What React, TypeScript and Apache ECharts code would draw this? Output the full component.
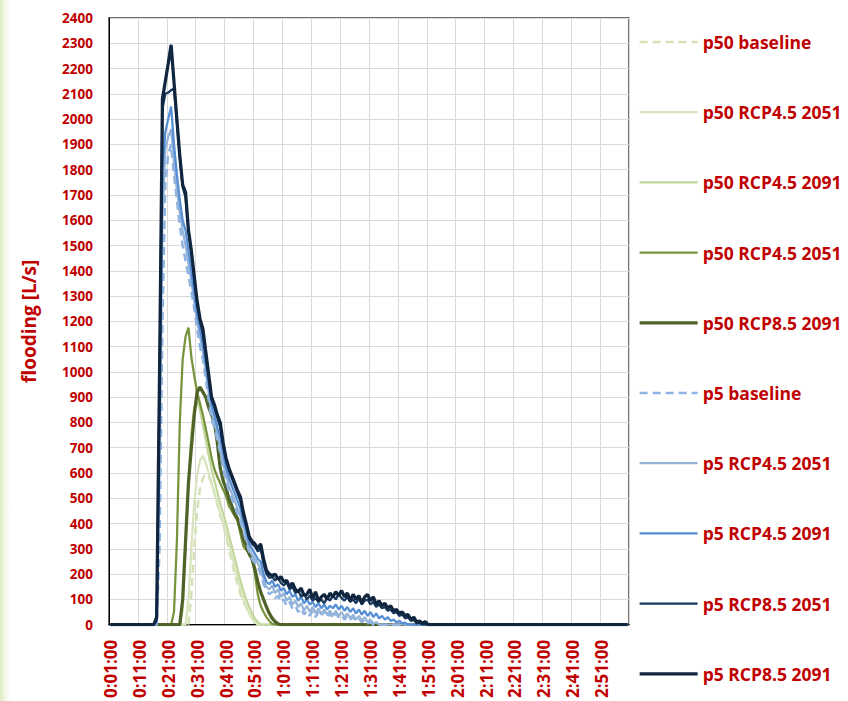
import React, { useEffect, useRef } from "react";
import * as echarts from "echarts";

// Time axis: one category per minute, 0:01:00 .. 3:00:00
const MINUTES: number[] = Array.from({ length: 180 }, (_, i) => i + 1);
const categories: string[] = MINUTES.map(
  (m) => `${Math.floor(m / 60)}:${String(m % 60).padStart(2, "0")}:00`
);

// y tick values
const yTicks = { min: 0, max: 2400, step: 100 };

// Series values (L/s) — each given from its first index (minute index, 0 = 0:01:00); zero elsewhere
const p50BaselineStart = 27;
const p50Baseline = [0, 120, 300, 450, 540, 580, 595, 585, 560, 520, 475, 430, 400, 350, 300, 250, 200, 160, 120, 90, 70, 45, 25, 12, 0];

const p50Rcp45_2051Start = 26;
const p50Rcp45_2051 = [0, 100, 300, 480, 590, 650, 668, 640, 600, 560, 520, 480, 440, 400, 360, 320, 275, 230, 185, 140, 100, 70, 45, 25, 10, 0];

const p50Rcp45_2091Start = 24;
const p50Rcp45_2091 = [0, 60, 300, 560, 760, 860, 885, 850, 790, 730, 670, 615, 570, 525, 480, 440, 400, 355, 310, 265, 220, 175, 135, 100, 70, 45, 25, 10, 0];

const p50Rcp45_2051bStart = 21;
const p50Rcp45_2051b = [0, 50, 330, 800, 1050, 1140, 1175, 1060, 985, 920, 875, 830, 775, 720, 660, 615, 585, 560, 535, 510, 470, 450, 430, 410, 360, 310, 295, 285, 260, 200, 120, 75, 50, 30, 15, 3, 0];

const p50Rcp85_2091Start = 24;
const p50Rcp85_2091 = [0, 100, 330, 560, 700, 830, 920, 940, 920, 900, 860, 830, 800, 720, 620, 570, 540, 500, 470, 440, 420, 380, 340, 310, 280, 260, 220, 170, 130, 100, 70, 45, 25, 12, 4, 0];

const p5BaselineStart = 16;
const p5Baseline = [0, 300, 1200, 1750, 1860, 1900, 1780, 1680, 1580, 1500, 1440, 1380, 1320, 1250, 1170, 1100, 1050, 970, 890, 810, 780, 730, 680, 620, 570, 530, 500, 470, 440, 410, 370, 330, 290, 260, 245, 230, 200, 160, 140, 120, 130, 105, 115, 90, 100, 75, 90, 65, 75, 50, 65, 40, 55, 35, 55, 30, 50, 35, 55, 30, 45, 25, 45, 30, 40, 20, 35, 20, 30, 15, 25, 10, 20, 5, 10, 0];

const p5Rcp45_2051Start = 16;
const p5Rcp45_2051 = [0, 600, 1600, 1880, 1930, 1960, 1830, 1720, 1630, 1560, 1500, 1430, 1360, 1280, 1200, 1140, 1080, 1000, 920, 840, 800, 750, 700, 640, 590, 550, 520, 490, 460, 430, 390, 350, 300, 275, 260, 245, 215, 180, 150, 140, 155, 125, 140, 110, 125, 95, 110, 80, 95, 70, 85, 55, 75, 50, 70, 45, 65, 40, 60, 40, 55, 35, 55, 35, 50, 30, 45, 25, 40, 20, 35, 15, 30, 10, 20, 5, 10, 0];

const p5Rcp45_2091Start = 16;
const p5Rcp45_2091 = [10, 850, 1800, 1950, 2000, 2050, 1900, 1780, 1680, 1600, 1560, 1480, 1400, 1310, 1230, 1170, 1110, 1030, 950, 870, 830, 780, 740, 680, 620, 580, 550, 520, 490, 460, 410, 370, 320, 300, 280, 260, 250, 200, 170, 160, 175, 150, 160, 135, 145, 120, 135, 110, 120, 95, 110, 85, 100, 80, 90, 70, 85, 65, 80, 60, 75, 65, 80, 60, 75, 55, 70, 50, 65, 45, 60, 40, 55, 35, 50, 30, 45, 25, 35, 20, 30, 15, 20, 10, 15, 5, 8, 0];

const p5Rcp85_2051Start = 16;
const p5Rcp85_2051 = [20, 950, 2040, 2100, 2105, 2115, 2120, 1990, 1850, 1730, 1690, 1560, 1470, 1370, 1270, 1200, 1150, 1060, 980, 890, 860, 820, 780, 710, 650, 610, 580, 550, 520, 490, 430, 390, 340, 320, 310, 290, 300, 240, 200, 185, 190, 175, 185, 165, 155, 170, 140, 150, 125, 135, 110, 125, 100, 115, 95, 105, 90, 100, 85, 105, 95, 115, 100, 120, 105, 95, 110, 90, 100, 85, 105, 80, 95, 100, 80, 90, 70, 80, 65, 70, 55, 60, 45, 50, 35, 40, 25, 30, 15, 20, 5, 8, 0];

const p5Rcp85_2091Start = 15;
const p5Rcp85_2091 = [0, 30, 1000, 2080, 2150, 2220, 2294, 2146, 1998, 1855, 1740, 1710, 1560, 1480, 1380, 1280, 1210, 1170, 1080, 990, 900, 870, 830, 800, 720, 660, 620, 590, 560, 530, 505, 445, 400, 350, 330, 320, 300, 320, 260, 215, 200, 195, 200, 180, 190, 170, 175, 150, 165, 140, 130, 145, 115, 120, 140, 105, 130, 95, 110, 120, 100, 125, 110, 130, 115, 135, 110, 125, 95, 120, 100, 115, 85, 110, 120, 95, 110, 80, 95, 75, 85, 65, 75, 55, 60, 45, 50, 35, 40, 20, 30, 10, 15, 5, 12, 0];

const fill = (start: number, vals: number[]) => {
  const arr = new Array(categories.length).fill(0);
  vals.forEach((v, i) => {
    arr[start + i] = v;
  });
  return arr;
};

const seriesDefs = [
  { name: "p50 baseline", start: p50BaselineStart, vals: p50Baseline, color: "#D4E2B6", width: 2.5, dash: [8, 5] },
  { name: "p50 RCP4.5 2051", start: p50Rcp45_2051Start, vals: p50Rcp45_2051, color: "#D7E4BD", width: 2.25, dash: null },
  { name: "p50 RCP4.5 2091", start: p50Rcp45_2091Start, vals: p50Rcp45_2091, color: "#C3D69B", width: 2.25, dash: null },
  { name: "p50 RCP4.5 2051 ", start: p50Rcp45_2051bStart, vals: p50Rcp45_2051b, color: "#77933C", width: 2.25, dash: null },
  { name: "p50 RCP8.5 2091", start: p50Rcp85_2091Start, vals: p50Rcp85_2091, color: "#4F6228", width: 3.25, dash: null },
  { name: "p5 baseline", start: p5BaselineStart, vals: p5Baseline, color: "#8EB4E3", width: 2.5, dash: [8, 5] },
  { name: "p5 RCP4.5 2051", start: p5Rcp45_2051Start, vals: p5Rcp45_2051, color: "#95B3D7", width: 2.25, dash: null },
  { name: "p5 RCP4.5 2091", start: p5Rcp45_2091Start, vals: p5Rcp45_2091, color: "#558ED5", width: 2.25, dash: null },
  { name: "p5 RCP8.5 2051", start: p5Rcp85_2051Start, vals: p5Rcp85_2051, color: "#17375E", width: 2.25, dash: null },
  { name: "p5 RCP8.5 2091", start: p5Rcp85_2091Start, vals: p5Rcp85_2091, color: "#10253F", width: 3.25, dash: null },
];

const RED = "#C00000";
const FONT = "Open Sans";

export default function App() {
  const ref = useRef<HTMLDivElement>(null);
  useEffect(() => {
    if (!ref.current) return;
    const chart = echarts.init(ref.current, undefined, { renderer: "svg" });
    chart.setOption({
      animation: false,
      backgroundColor: "#ffffff",
      graphic: [
        {
          type: "rect",
          left: 0,
          top: 0,
          shape: { width: 14, height: 701 },
          style: {
            fill: new echarts.graphic.LinearGradient(0, 0, 1, 0, [
              { offset: 0, color: "rgba(214,234,180,0.9)" },
              { offset: 1, color: "rgba(255,255,255,0)" },
            ]),
          },
          silent: true,
          z: -1,
        },
      ],
      grid: {
        left: 109,
        right: 219,
        top: 18,
        bottom: 75,
        show: true,
        borderColor: "#404040",
        borderWidth: 1.5,
        backgroundColor: "transparent",
      },
      legend: {
        orient: "vertical",
        left: 638,
        top: 32,
        padding: 0,
        itemWidth: 58,
        itemHeight: 20,
        itemGap: 50.2,
        itemStyle: { opacity: 0 },
        lineStyle: { width: "inherit" },
        formatter: (n: string) => n.trim(),
        textStyle: {
          color: RED,
          fontWeight: "bold",
          fontSize: 17.5,
          fontFamily: FONT,
          lineHeight: 20,
        },
        data: seriesDefs.map((s) => ({ name: s.name })),
      },
      xAxis: {
        type: "category",
        data: categories,
        boundaryGap: true,
        axisLine: { show: true, lineStyle: { color: "#000000", width: 1 } },
        axisTick: { show: false },
        axisLabel: {
          interval: 9,
          rotate: 90,
          margin: 15,
          color: RED,
          fontWeight: "bold",
          fontSize: 17,
          fontFamily: FONT,
        },
        splitLine: { show: true, interval: 9, lineStyle: { color: "#D9D9D9", width: 1 } },
      },
      yAxis: {
        type: "value",
        min: yTicks.min,
        max: yTicks.max,
        interval: yTicks.step,
        name: "flooding [L/s]",
        nameLocation: "middle",
        nameGap: 71,
        nameTextStyle: { color: RED, fontWeight: "bold", fontSize: 19, fontFamily: FONT },
        axisLine: { show: true, lineStyle: { color: "#000000", width: 1 } },
        axisTick: { show: false },
        axisLabel: {
          color: RED,
          fontWeight: "bold",
          fontSize: 13.5,
          fontFamily: FONT,
          margin: 16,
          formatter: (v: number) => String(v),
        },
        splitLine: { show: true, lineStyle: { color: "#D9D9D9", width: 1 } },
      },
      series: seriesDefs.map((s) => ({
        name: s.name,
        type: "line",
        data: fill(s.start, s.vals),
        symbol: "none",
        showSymbol: false,
        color: s.color,
        lineStyle: { color: s.color, width: s.width, type: s.dash ? s.dash : "solid" },
        emphasis: { disabled: true },
      })),
    });
    return () => chart.dispose();
  }, []);
  return <div ref={ref} style={{ position: "fixed", left: 0, top: 0, width: 848, height: 701 }} />;
}
